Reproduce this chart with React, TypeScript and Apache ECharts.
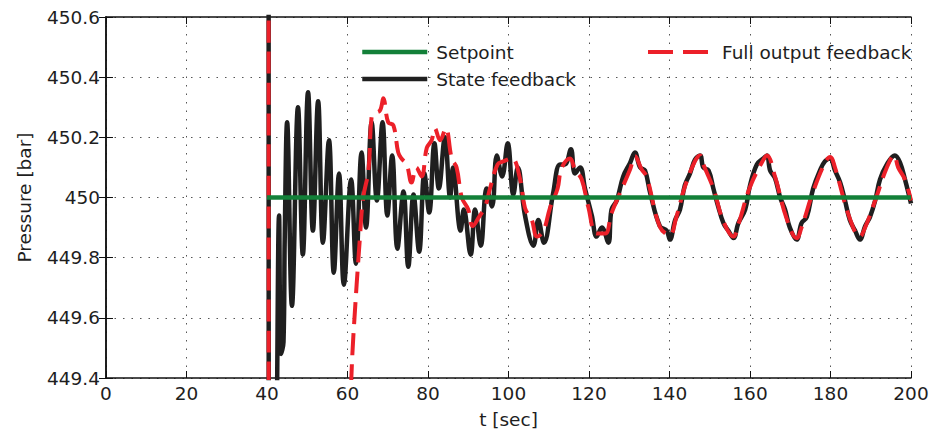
import React, { useEffect, useRef } from "react";
import * as echarts from "echarts";

const stateT = [40.4, 40.6, 42.4, 43.0, 43.5, 44.1, 44.4, 45.0, 46.2, 47.7, 48.9, 50.2, 51.4, 52.7, 53.9, 55.4, 56.6, 57.9, 59.1, 60.9, 62.1, 63.5, 64.6, 66.0, 67.3, 68.7, 69.9, 71.1, 72.4, 73.9, 75.1, 76.4, 77.8, 79.1, 80.3, 81.6, 82.7, 84.2, 85.5, 86.2, 88.1, 88.9, 90.6, 91.7, 93.1, 94.6, 95.9, 97.1, 98.4, 99.8, 101.2, 102.3, 104.1, 106.2, 107.4, 108.8, 111.1, 112.8, 114.0, 115.5, 116.5, 117.8, 119.0, 120.7, 121.9, 123.2, 124.8, 125.6, 126.9, 128.5, 130.2, 131.4, 132.7, 133.9, 135.2, 137.6, 139.3, 140.1, 141.4, 142.6, 143.8, 145.1, 146.3, 147.6, 148.4, 149.7, 150.9, 152.1, 153.4, 154.6, 155.9, 157.1, 158.8, 160.0, 161.7, 163.3, 164.2, 165.0, 166.2, 167.5, 168.7, 169.9, 171.6, 172.8, 174.1, 175.7, 177.4, 178.6, 179.9, 181.1, 182.4, 183.6, 184.8, 186.1, 187.3, 188.6, 189.8, 191.1, 192.3, 194.0, 196.0, 197.3, 198.5, 200];
const stateP = [451.0, 447.0, 449.2, 449.94, 449.48, 449.52, 449.86, 450.25, 449.64, 450.30, 449.81, 450.35, 449.89, 450.32, 449.85, 450.19, 449.75, 450.08, 449.71, 450.06, 449.78, 450.15, 449.90, 450.25, 449.99, 450.25, 449.94, 450.14, 449.83, 450.02, 449.77, 450.01, 449.82, 450.08, 449.95, 450.18, 450.03, 450.20, 450.00, 450.10, 449.89, 449.96, 449.81, 449.96, 449.84, 450.03, 449.97, 450.14, 450.07, 450.18, 450.01, 450.10, 449.94, 449.84, 449.925, 449.85, 450.015, 450.11, 450.11, 450.16, 450.08, 450.10, 450.03, 449.94, 449.87, 449.90, 449.85, 449.96, 449.99, 450.07, 450.115, 450.15, 450.10, 450.09, 450.015, 449.905, 449.89, 449.86, 449.925, 449.96, 450.04, 450.08, 450.125, 450.14, 450.10, 450.09, 450.03, 449.97, 449.915, 449.89, 449.865, 449.915, 449.96, 450.04, 450.11, 450.13, 450.14, 450.09, 450.065, 450.00, 449.96, 449.90, 449.86, 449.915, 449.935, 450.03, 450.09, 450.12, 450.13, 450.09, 450.05, 449.99, 449.925, 449.89, 449.86, 449.905, 449.935, 449.99, 450.06, 450.11, 450.14, 450.115, 450.06, 449.98];

const outputT = [40.4, 40.6, 59.5, 61.5, 63.1, 63.9, 65.2, 66.0, 66.8, 68.1, 68.9, 70.1, 71.4, 72.6, 73.4, 74.7, 75.9, 77.1, 78.4, 79.7, 80.9, 81.7, 83.0, 84.4, 85.9, 87.1, 88.4, 90.0, 91.1, 92.7, 94.2, 95.4, 97.3, 98.7, 100.8, 102.9, 104.1, 105.8, 107.1, 108.7, 110.3, 112.2, 113.2, 115.3, 116.5, 118.2, 119.8, 121.9, 124.0, 125.6, 127.7, 130.2, 131.4, 133.1, 134.3, 137.6, 140.1, 141.6, 143.8, 146.3, 147.6, 148.4, 150.9, 153.4, 155.9, 157.1, 160.0, 163.3, 164.2, 166.2, 169.1, 171.6, 172.8, 175.7, 178.6, 179.9, 181.1, 184.8, 187.3, 188.6, 191.1, 194.0, 195.8, 196.8, 198.5, 200];
const outputP = [451.0, 447.0, 449.1, 449.55, 449.87, 450.0, 450.09, 450.27, 450.28, 450.29, 450.33, 450.25, 450.24, 450.15, 450.13, 450.11, 450.05, 450.10, 450.07, 450.165, 450.19, 450.23, 450.19, 450.23, 450.13, 450.10, 450.00, 449.96, 449.905, 449.936, 449.97, 450.03, 450.11, 450.12, 450.13, 450.06, 449.965, 449.925, 449.87, 449.89, 449.965, 450.03, 450.098, 450.13, 450.093, 450.06, 449.97, 449.88, 449.88, 449.948, 450.015, 450.093, 450.137, 450.093, 450.07, 449.903, 449.875, 449.93, 450.035, 450.12, 450.14, 450.11, 450.03, 449.92, 449.87, 449.91, 450.035, 450.125, 450.14, 450.07, 449.93, 449.865, 449.9, 450.02, 450.115, 450.135, 450.1, 449.93, 449.87, 449.9, 449.99, 450.1, 450.14, 450.1, 450.06, 449.99];

const setpointT = [40, 200];
const setpointP = [450, 450];

const xTicks = { min: 0, max: 200, interval: 20 };
const yTicks = { min: 449.4, max: 450.6, interval: 0.2 };

const zip = (t: number[], p: number[]) => t.map((v, i) => [v, p[i]]);

const FONT = "DejaVu Sans";
const TXT = "#1e1e1e";

export default function App() {
  const ref = useRef<HTMLDivElement>(null);
  useEffect(() => {
    document.body.style.margin = "0";
    if (!ref.current) return;
    const chart = echarts.init(ref.current, null, { renderer: "svg" });
    const frameAxis = {
      axisLine: { show: true, lineStyle: { color: "#111", width: 1.5 } },
      axisTick: { show: true, inside: true, length: 7, lineStyle: { color: "#111", width: 1 } },
      axisLabel: { show: false },
      splitLine: { show: false },
    };
    const grid = { color: "#555", width: 1, type: [1.5, 7] as any };
    chart.setOption({
      animation: false,
      backgroundColor: "#fff",
      grid: { left: 106, right: 22, top: 17, bottom: 59, containLabel: false },
      legend: [
        {
          data: ["Setpoint", "State feedback"],
          orient: "vertical",
          left: 355,
          top: 37,
          itemWidth: 65,
          itemHeight: 20,
          itemGap: 7,
          itemStyle: { opacity: 0 },
          lineStyle: { width: 4.5 },
          textStyle: { fontFamily: FONT, fontSize: 18.5, color: TXT, padding: [0, 0, 0, 4], lineHeight: 20 },
        },
        {
          data: ["Full output feedback"],
          orient: "vertical",
          left: 641,
          top: 37,
          itemWidth: 61,
          itemHeight: 20,
          itemStyle: { opacity: 0 },
          textStyle: { fontFamily: FONT, fontSize: 18.5, color: TXT, padding: [0, 0, 0, 8], lineHeight: 20 },
          lineStyle: { type: [25, 10], width: 4 },
        },
      ],
      xAxis: [
        {
          type: "value",
          ...xTicks,
          name: "t [sec]",
          nameLocation: "middle",
          nameGap: 32,
          nameTextStyle: { fontFamily: FONT, fontSize: 18.5, color: TXT },
          axisLine: { show: true, lineStyle: { color: "#111", width: 1.5 } },
          axisTick: { show: true, inside: true, length: 7, lineStyle: { color: "#111", width: 1 } },
          axisLabel: { fontFamily: FONT, fontSize: 18.5, color: TXT, margin: 6 },
          splitLine: { show: true, lineStyle: grid },
        },
        { type: "value", position: "top", ...xTicks, ...frameAxis },
      ],
      yAxis: [
        {
          type: "value",
          ...yTicks,
          name: "Pressure [bar]",
          nameLocation: "middle",
          nameGap: 72,
          nameTextStyle: { fontFamily: FONT, fontSize: 18.5, color: TXT },
          axisLine: { show: true, lineStyle: { color: "#111", width: 1.5 } },
          axisTick: { show: true, inside: true, length: 7, lineStyle: { color: "#111", width: 1 } },
          axisLabel: {
            fontFamily: FONT,
            fontSize: 18.5,
            color: TXT,
            margin: 6,
            formatter: (v: number) => String(Number(v.toFixed(1))),
          },
          splitLine: { show: true, lineStyle: grid },
        },
        { type: "value", position: "right", ...yTicks, ...frameAxis },
      ],
      series: [
        {
          name: "State feedback",
          type: "line",
          data: zip(stateT, stateP),
          symbol: "none",
          smooth: 0.4,
          clip: true,
          lineStyle: { color: "#1f1f1f", width: 4.5 },
          itemStyle: { color: "#1f1f1f" },
        },
        {
          name: "Full output feedback",
          type: "line",
          data: zip(outputT, outputP),
          symbol: "none",
          smooth: 0.4,
          clip: true,
          lineStyle: { color: "#ec2029", width: 4, type: [22, 9] },
          itemStyle: { color: "#ec2029" },
        },
        {
          name: "Setpoint",
          type: "line",
          data: zip(setpointT, setpointP),
          symbol: "none",
          clip: true,
          lineStyle: { color: "#138039", width: 4.5 },
          itemStyle: { color: "#138039" },
        },
      ],
    });
    return () => chart.dispose();
  }, []);
  return <div ref={ref} style={{ width: 933, height: 437 }} />;
}
